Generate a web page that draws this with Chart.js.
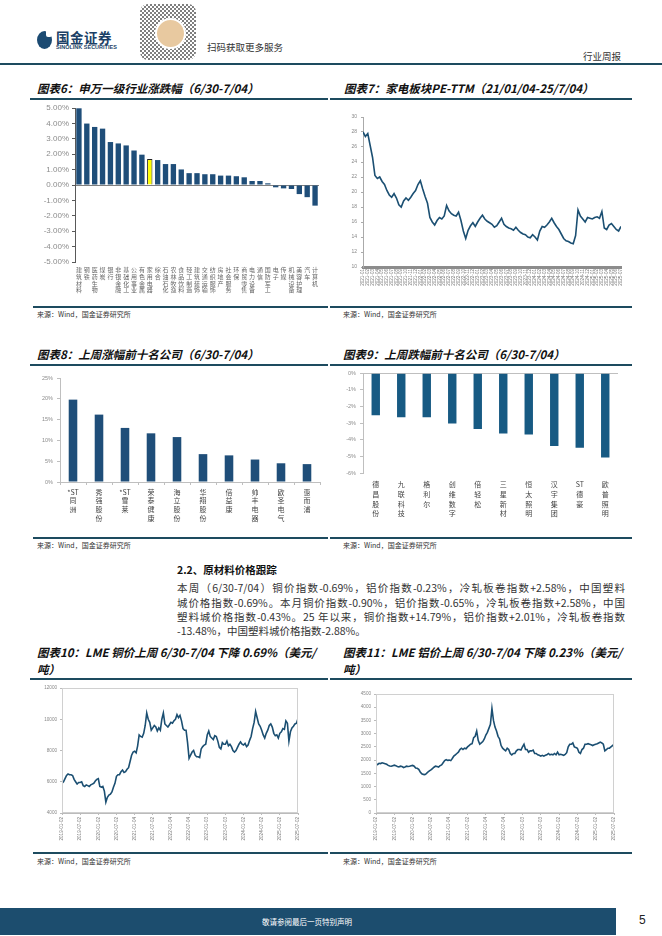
<!DOCTYPE html>
<html lang="zh-CN">
<head>
<meta charset="utf-8">
<title>行业周报</title>
<script src="https://cdn.jsdelivr.net/npm/chart.js@4.4.1/dist/chart.umd.min.js"></script>
<style>
html, body { margin: 0; padding: 0; background: #fff; }
body { width: 662px; height: 936px; position: relative; overflow: hidden; font-family: "Noto Sans CJK SC", "Noto Sans", sans-serif; color: #222; }
.abs { position: absolute; white-space: nowrap; }
.title { position: absolute; font-weight: 700; font-style: italic; font-size: 11.5px; color: #111; white-space: nowrap; line-height: 16px; }
.rule { position: absolute; height: 1.5px; background: #1d4b5f; }
.src { position: absolute; font-size: 7px; color: #333; white-space: nowrap; }
.para { position: absolute; left: 177px; width: 448px; font-size: 10.5px; color: #333; line-height: 14.5px; text-align: justify; text-align-last: justify; white-space: nowrap; }
canvas { position: absolute; }
</style>
</head>
<body>

<!-- 页眉 -->
<div class="abs" style="left:37px;top:31px;width:15px;height:18px;border-radius:50%;background:#1b4a72;"></div>
<div class="abs" style="left:46px;top:29px;width:6px;height:8px;background:#fff;border-radius:2px;"></div>
<div class="abs" style="left:56px;top:27px;font-size:13.5px;font-weight:700;color:#1b3f66;letter-spacing:0.5px;">国金证券</div>
<div class="abs" style="left:56px;top:44px;font-size:5.5px;font-weight:700;color:#1b3f66;font-family:'Liberation Sans',sans-serif;">SINOLINK SECURITIES</div>
<div class="abs" style="left:140px;top:4px;width:56px;height:56px;background:repeating-conic-gradient(#555 0 25%, #fff 0 50%) 0 0/4px 4px;border-radius:8px;opacity:0.75;"></div>
<div class="abs" style="left:155px;top:18px;width:27px;height:27px;border-radius:50%;background:#e8c9a0;border:2px solid #fff;"></div>
<div class="abs" style="left:207px;top:40px;font-size:9.5px;color:#333;">扫码获取更多服务</div>
<div class="abs" style="left:583px;top:49px;font-size:9.5px;color:#333;">行业周报</div>
<div class="rule" style="left:0;top:63px;width:662px;height:2px;"></div>

<!-- 图表6 / 图表7 -->
<div class="title" style="left:37px;top:80px;">图表6：申万一级行业涨跌幅（6/30-7/04）</div>
<div class="rule" style="left:30px;top:98px;width:298px;"></div>
<div class="title" style="left:344px;top:80px;">图表7：家电板块PE-TTM（21/01/04-25/7/04）</div>
<div class="rule" style="left:330px;top:98px;width:302px;"></div>
<canvas id="c6" width="295" height="205" style="left:30px;top:100px;"></canvas>
<canvas id="c7" width="302" height="205" style="left:330px;top:100px;"></canvas>
<div class="rule" style="left:33px;top:306px;width:295px;"></div>
<div class="src" style="left:37px;top:309px;">来源：Wind，国金证券研究所</div>
<div class="rule" style="left:330px;top:306px;width:302px;"></div>
<div class="src" style="left:343px;top:309px;">来源：Wind，国金证券研究所</div>

<!-- 图表8 / 图表9 -->
<div class="title" style="left:37px;top:346px;">图表8：上周涨幅前十名公司（6/30-7/04）</div>
<div class="rule" style="left:30px;top:364px;width:298px;"></div>
<div class="title" style="left:343px;top:346px;">图表9：上周跌幅前十名公司（6/30-7/04）</div>
<div class="rule" style="left:330px;top:364px;width:302px;"></div>
<canvas id="c8" width="295" height="170" style="left:30px;top:366px;"></canvas>
<canvas id="c9" width="302" height="170" style="left:330px;top:366px;"></canvas>
<div class="rule" style="left:33px;top:537px;width:295px;"></div>
<div class="src" style="left:37px;top:540px;">来源：Wind，国金证券研究所</div>
<div class="rule" style="left:330px;top:537px;width:302px;"></div>
<div class="src" style="left:343px;top:540px;">来源：Wind，国金证券研究所</div>

<!-- 正文 -->
<div class="abs" style="left:177px;top:562px;font-size:10.5px;font-weight:700;color:#111;">2.2、原材料价格跟踪</div>
<div class="para" style="top:581px;">本周（6/30-7/04）铜价指数-0.69%，铝价指数-0.23%，冷轧板卷指数+2.58%，中国塑料</div>
<div class="para" style="top:596px;">城价格指数-0.69%。本月铜价指数-0.90%，铝价指数-0.65%，冷轧板卷指数+2.58%，中国</div>
<div class="para" style="top:610px;">塑料城价格指数-0.43%。25 年以来，铜价指数+14.79%，铝价指数+2.01%，冷轧板卷指数</div>
<div class="para" style="top:624px;text-align-last:left;">-13.48%，中国塑料城价格指数-2.88%。</div>

<!-- 图表10 / 图表11 -->
<div class="title" style="left:37px;top:644px;">图表10：LME 铜价上周 6/30-7/04 下降 0.69%（美元/</div>
<div class="title" style="left:37px;top:661px;">吨）</div>
<div class="rule" style="left:30px;top:678px;width:298px;"></div>
<div class="title" style="left:343px;top:644px;">图表11：LME 铝价上周 6/30-7/04 下降 0.23%（美元/</div>
<div class="title" style="left:343px;top:661px;">吨）</div>
<div class="rule" style="left:330px;top:678px;width:302px;"></div>
<canvas id="c10" width="295" height="170" style="left:30px;top:680px;"></canvas>
<canvas id="c11" width="302" height="170" style="left:330px;top:680px;"></canvas>
<div class="rule" style="left:33px;top:852px;width:295px;"></div>
<div class="src" style="left:37px;top:856px;">来源：Wind，国金证券研究所</div>
<div class="rule" style="left:330px;top:852px;width:302px;"></div>
<div class="src" style="left:343px;top:856px;">来源：Wind，国金证券研究所</div>

<!-- 页脚 -->
<div class="abs" style="left:0;top:908px;width:616px;height:27px;background:#1c4d6e;"></div>
<div class="abs" style="left:262px;top:916px;font-size:7.5px;color:#fff;">敬请参阅最后一页特别声明</div>
<div class="abs" style="left:639px;top:913px;font-size:12px;color:#222;font-family:'Liberation Sans',sans-serif;">5</div>

<script>
// 图表6：申万一级行业涨跌幅（%）
const industryNames = ['建筑材料', '钢铁', '医药生物', '煤炭', '银行', '非银金融', '基础化工', '公用事业',
    '有色金属', '家用电器', '综合', '石油石化', '农林牧渔', '食品饮料', '轻工制造', '建筑装饰',
    '交通运输', '纺织服饰', '房地产', '社会服务', '环保', '商贸零售', '电力设备', '通信',
    '国防军工', '电子', '传媒', '机械设备', '美容护理', '汽车', '计算机'];
const industryChange = [4.98, 3.99, 3.77, 3.66, 2.79, 2.70, 2.57, 2.24, 1.97, 1.69, 1.62, 1.36, 1.36,
    1.01, 0.77, 0.77, 0.70, 0.70, 0.61, 0.61, 0.57, 0.50, 0.26, 0.26, 0.11,
    -0.15, -0.22, -0.26, -0.59, -0.79, -1.34];
const highlightIndustry = '家用电器';
const pctTicks6 = [5, 4, 3, 2, 1, 0, -1, -2, -3, -4, -5];

// 图表7：家电板块 PE-TTM（每半月读数）
const peMonthLabels = [
    '2021-01', '2021-02', '2021-03', '2021-04', '2021-05', '2021-06', '2021-07', '2021-08', '2021-09', '2021-10', '2021-11', '2021-12',
    '2022-01', '2022-02', '2022-03', '2022-04', '2022-05', '2022-06', '2022-07', '2022-08', '2022-09', '2022-10', '2022-11', '2022-12',
    '2023-01', '2023-02', '2023-03', '2023-04', '2023-05', '2023-06', '2023-07', '2023-08', '2023-09', '2023-10', '2023-11', '2023-12',
    '2024-01', '2024-02', '2024-03', '2024-04', '2024-05', '2024-06', '2024-07', '2024-08', '2024-09', '2024-10', '2024-11', '2024-12',
    '2025-01', '2025-02', '2025-03', '2025-04', '2025-05', '2025-06', '2025-07'];
const peValues = [
    28.0, 27.4, 27.8, 26.2, 24.6, 22.2, 21.8, 22.0, 21.4, 21.0, 20.2, 19.6,
    19.3, 19.8, 19.2, 18.3, 18.0, 18.8, 19.2, 18.9, 19.3, 19.8, 20.2, 21.0,
    21.5, 20.4, 19.4, 18.5, 16.6, 16.0, 15.6, 16.2, 16.6, 16.4, 16.8, 18.2,
    17.5, 17.1, 16.9, 16.8, 17.3, 16.2, 14.8, 13.8, 14.9, 15.5, 15.9, 15.4,
    16.0, 16.5, 16.9, 16.4, 16.1, 15.9, 15.7, 15.3, 15.5, 16.0, 16.5, 15.7,
    15.4, 15.2, 15.1, 14.9, 15.3, 14.9, 14.6, 14.4, 14.3, 14.0, 13.9, 14.3,
    14.0, 13.6, 14.8, 15.4, 15.3, 15.6, 16.0, 16.5, 15.9, 15.4, 15.0, 14.4,
    13.8, 13.5, 13.4, 13.2, 13.1, 14.2, 17.6, 16.8, 16.4, 16.0, 16.6, 16.5,
    16.4, 16.6, 16.7, 16.5, 17.4, 15.2, 15.0, 15.6, 15.8, 15.4, 15.0, 14.8,
    15.4];

// 图表8 / 图表9：上周涨跌幅前十名公司（%）
const gainers = ['*ST同洲', '秀强股份', '*ST雪莱', '荣泰健康', '海立股份', '华翔股份', '倍益康', '帅丰电器', '欧圣电气', '惠而浦'];
const gainerChange = [19.8, 16.2, 13.0, 11.7, 10.8, 6.7, 6.4, 5.4, 4.5, 4.3];
const losers = ['德昌股份', '九联科技', '格利尔', '创维数字', '倍轻松', '三星新材', '恒太照明', '汉宇集团', 'ST德豪', '欧普照明'];
const loserChange = [-2.52, -2.65, -2.65, -3.02, -3.35, -3.62, -3.69, -4.38, -4.48, -5.06];

// 图表10 / 图表11：LME 铜价、铝价（美元/吨，每半月读数，2019-01 至 2025-07）
const halfYearLabels = ['2019-01-02', '2019-07-02', '2020-01-02', '2020-07-02', '2021-01-04', '2021-07-02', '2022-01-04',
    '2022-07-04', '2023-01-03', '2023-07-03', '2024-01-02', '2024-07-02', '2025-01-02', '2025-07-02'];
const copperPrice = [
    5900, 6000, 6200, 6400, 6500, 6450, 6450, 6400, 6150, 6000, 5850, 5950,
    5950, 6000, 5750, 5700, 5800, 5750, 5700, 5800, 5850, 5900, 6050, 6150,
    6200, 5700, 5650, 5700, 5400, 4700, 5000, 5150, 5200, 5350, 5650, 5900,
    6350, 6450, 6450, 6650, 6750, 6600, 6650, 6800, 6900, 7300, 7700, 7900,
    7950, 7850, 8300, 9000, 8900, 8850, 9100, 9600, 10400, 10000, 9800, 9300,
    9450, 9600, 9500, 9250, 9450, 9300, 10000, 10400, 9700, 9600, 9500, 9650,
    9800, 9750, 9900, 10000, 10300, 10100, 10250, 9900, 9400, 9300, 9300, 8500,
    7500, 7700, 7900, 8000, 7700, 7600, 7600, 7550, 8100, 8250, 8350, 8400,
    9000, 9250, 8900, 8800, 8700, 8950, 8900, 8600, 8200, 8100, 8500, 8400,
    8400, 8600, 8300, 8400, 8250, 8000, 7900, 8000, 8200, 8400, 8550, 8400,
    8350, 8450, 8250, 8350, 8650, 8900, 9400, 9800, 10500, 10100, 9700, 9550,
    9300, 9000, 8800, 9100, 9300, 9600, 9700, 9500, 9100, 8950, 9000, 8800,
    9100, 9200, 9400, 9350, 9900, 9750, 8600, 9200, 9450, 9550, 9700, 9750,
    10050];
const aluminumPrice = [
    1850, 1830, 1880, 1870, 1900, 1880, 1860, 1840, 1800, 1780, 1770, 1790,
    1810, 1790, 1760, 1740, 1770, 1760, 1720, 1740, 1770, 1760, 1770, 1790,
    1800, 1770, 1700, 1690, 1650, 1550, 1480, 1460, 1450, 1490, 1550, 1590,
    1630, 1680, 1730, 1770, 1760, 1740, 1790, 1820, 1900, 1980, 2020, 1990,
    2000, 1980, 2060, 2150, 2200, 2250, 2300, 2400, 2450, 2400, 2450, 2430,
    2500, 2550, 2600, 2620, 2850, 2900, 3100, 2750, 2600, 2650, 2700, 2800,
    2950, 3050, 3200, 3350, 3950, 3500, 3250, 3100, 2900, 2800, 2550, 2450,
    2400, 2350, 2450, 2400, 2250, 2200, 2250, 2250, 2350, 2400, 2400, 2380,
    2500, 2600, 2400, 2400, 2300, 2350, 2350, 2380, 2250, 2250, 2200, 2180,
    2150, 2180, 2150, 2180, 2200, 2250, 2200, 2220, 2200, 2250, 2200, 2300,
    2200, 2220, 2200, 2180, 2220, 2280, 2500, 2600, 2600, 2650, 2500, 2480,
    2450, 2300, 2250, 2400, 2450, 2600, 2600, 2620, 2600, 2580, 2550, 2580,
    2600, 2620, 2650, 2680, 2650, 2600, 2350, 2400, 2450, 2450, 2500, 2550,
    2600];

// 通用设置
Chart.defaults.font.family = '"Liberation Sans", "Noto Sans CJK SC", sans-serif';
Chart.defaults.animation = false;
Chart.defaults.responsive = false;
Chart.defaults.plugins.legend.display = false;
Chart.defaults.plugins.tooltip.enabled = false;

const BAR_BLUE = '#1f4e79';
const LINE_BLUE = '#1b4f72';
const TICK_GREY = '#8c8c8c';
const cjkFont = (size, lh) => ({ family: '"Noto Sans CJK SC", sans-serif', size: size, lineHeight: lh });
// 竖排标签：每个汉字一行
const stacked = (name) => name.startsWith('*ST') ? ['*ST'].concat(name.slice(3).split(''))
    : name.startsWith('ST') ? ['ST'].concat(name.slice(2).split('')) : name.split('');

// 绘图区外框
const plotFrame = {
    id: 'plotFrame',
    afterDraw(chart) {
        const a = chart.chartArea, c = chart.ctx;
        c.save();
        c.strokeStyle = '#d0d0d0';
        c.lineWidth = 1;
        c.strokeRect(a.left + 0.5, a.top + 0.5, a.width - 1, a.height - 1);
        c.restore();
    }
};

// 图表6
new Chart(document.getElementById('c6'), {
    type: 'bar',
    data: {
        labels: industryNames.map(stacked),
        datasets: [{
            data: industryChange,
            backgroundColor: industryNames.map(n => n === highlightIndustry ? '#ffff00' : BAR_BLUE),
            borderColor: industryNames.map(n => n === highlightIndustry ? '#222' : BAR_BLUE),
            borderWidth: industryNames.map(n => n === highlightIndustry ? 1 : 0),
            barPercentage: 0.68,
            categoryPercentage: 1
        }]
    },
    options: {
        layout: { padding: { left: 0, right: 6, top: 8, bottom: 0 } },
        scales: {
            x: {
                grid: { display: false, drawTicks: false },
                border: { display: false },
                ticks: { autoSkip: false, maxRotation: 0, minRotation: 0, padding: 4, color: '#666', font: cjkFont(6, 1.15) },
                afterFit(s) { s.height = 43; }
            },
            y: {
                min: -5, max: 5,
                afterBuildTicks(s) { s.ticks = pctTicks6.map(v => ({ value: v })); },
                ticks: { callback: v => v.toFixed(2) + '%', color: TICK_GREY, font: { size: 8 }, padding: 3 },
                grid: { color: c => c.tick && c.tick.value === 0 ? '#7f7f7f' : 'transparent', tickColor: '#595959', tickLength: 3 },
                border: { color: '#595959' },
                afterFit(s) { s.width = 45; }
            }
        }
    }
});

// 图表7
new Chart(document.getElementById('c7'), {
    type: 'line',
    data: {
        datasets: [{
            data: peValues.map((v, i) => ({ x: i / 2, y: v })),
            borderColor: LINE_BLUE,
            borderWidth: 1.6,
            pointRadius: 0,
            tension: 0
        }]
    },
    options: {
        layout: { padding: { left: 0, right: 11, top: 17, bottom: 0 } },
        scales: {
            x: {
                type: 'linear', min: 0, max: 54,
                afterBuildTicks(s) { s.ticks = peMonthLabels.map((t, i) => ({ value: i })); },
                ticks: { autoSkip: false, maxRotation: 90, minRotation: 90, padding: 2, color: '#777', font: { size: 4.6 },
                    callback: v => peMonthLabels[v] },
                grid: { display: false, drawTicks: false },
                border: { color: '#8c8c8c', width: 3 },
                afterFit(s) { s.height = 38; }
            },
            y: {
                min: 10, max: 30,
                ticks: { stepSize: 2, color: '#888', font: { size: 5 }, padding: 4, callback: v => String(v) },
                grid: { drawOnChartArea: false, tickLength: 2, tickColor: '#aaa' },
                border: { color: '#aaa' },
                afterFit(s) { s.width = 33; }
            }
        }
    }
});

// 图表8
new Chart(document.getElementById('c8'), {
    type: 'bar',
    data: {
        labels: gainers.map(stacked),
        datasets: [{ data: gainerChange, backgroundColor: BAR_BLUE, barPercentage: 0.33, categoryPercentage: 1 }]
    },
    options: {
        layout: { padding: { left: 0, right: 5, top: 12, bottom: 0 } },
        scales: {
            x: {
                grid: { drawOnChartArea: false, tickLength: 3, color: '#bfbfbf' },
                border: { color: '#bfbfbf' },
                ticks: { autoSkip: false, maxRotation: 0, minRotation: 0, padding: 3, color: '#444', font: cjkFont(7, 1.22) },
                afterFit(s) { s.height = 54; }
            },
            y: {
                min: 0, max: 25,
                ticks: { stepSize: 5, callback: v => v + '%', color: TICK_GREY, font: { size: 5.5 }, padding: 4 },
                grid: { drawOnChartArea: false, tickLength: 3, color: '#bfbfbf' },
                border: { color: '#bfbfbf' },
                afterFit(s) { s.width = 30; }
            }
        }
    }
});

// 图表9
new Chart(document.getElementById('c9'), {
    type: 'bar',
    data: {
        labels: losers.map(stacked),
        datasets: [{ data: loserChange, backgroundColor: '#175a83', barPercentage: 0.33, categoryPercentage: 1 }]
    },
    options: {
        layout: { padding: { left: 0, right: 14, top: 3, bottom: 0 } },
        scales: {
            x: {
                grid: { display: false, drawTicks: false },
                border: { display: false },
                ticks: { autoSkip: false, maxRotation: 0, minRotation: 0, padding: 7, color: '#444', font: cjkFont(7, 1.38) },
                afterFit(s) { s.height = 63; }
            },
            y: {
                min: -6, max: 0,
                ticks: { stepSize: 1, callback: v => v + '%', color: TICK_GREY, font: { size: 5.5 }, padding: 4 },
                grid: { color: c => c.tick && c.tick.value === 0 ? '#bfbfbf' : 'transparent', tickColor: '#bfbfbf', tickLength: 3 },
                border: { color: '#bfbfbf' },
                afterFit(s) { s.width = 33; }
            }
        }
    }
});

// 图表10、11：LME 价格走势（x 以月为单位，每半月一个读数）
function priceChart(id, values, yMin, yMax, yStep, yWidth, padRight, padTop) {
    return new Chart(document.getElementById(id), {
        type: 'line',
        data: {
            datasets: [{
                data: values.map((v, i) => ({ x: i / 2, y: v })),
                borderColor: LINE_BLUE,
                borderWidth: 1.6,
                pointRadius: 0,
                tension: 0
            }]
        },
        options: {
            layout: { padding: { left: 0, right: padRight, top: padTop, bottom: 0 } },
            scales: {
                x: {
                    type: 'linear', min: 0, max: 78,
                    afterBuildTicks(s) { s.ticks = halfYearLabels.map((t, i) => ({ value: i * 6 })); },
                    ticks: { autoSkip: false, maxRotation: 90, minRotation: 90, padding: 2, color: '#777', font: { size: 4.6 },
                        callback: v => halfYearLabels[v / 6] },
                    grid: { drawOnChartArea: false, tickLength: 2, color: '#bbb' },
                    border: { color: '#bbb' },
                    afterFit(s) { s.height = 37; }
                },
                y: {
                    min: yMin, max: yMax,
                    ticks: { stepSize: yStep, color: '#888', font: { size: 4.6 }, padding: 3, callback: v => String(v) },
                    grid: { drawOnChartArea: false, tickLength: 2, color: '#bbb' },
                    border: { color: '#bbb' },
                    afterFit(s) { s.width = yWidth; }
                }
            }
        },
        plugins: [plotFrame]
    });
}

priceChart('c10', copperPrice, 4000, 12000, 2000, 32, 27, 8);
priceChart('c11', aluminumPrice, 0, 4500, 500, 46, 18, 14);
</script>
</body>
</html>
